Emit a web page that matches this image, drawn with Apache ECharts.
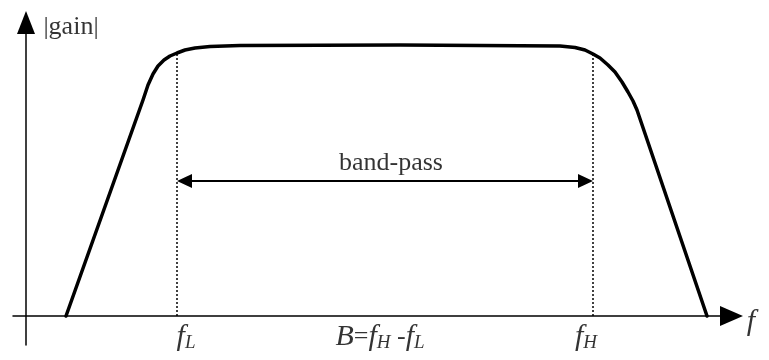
<!DOCTYPE html>
<html>
<head>
<meta charset="utf-8">
<script src="https://cdn.jsdelivr.net/npm/echarts@6/dist/echarts.min.js"></script>
<style>html,body{margin:0;padding:0;background:#fff}#c{width:769px;height:360px}</style>
</head>
<body>
<div id="c"></div>
<script>
// Data (frequency units, gain units)
const curveF = [40, 117, 122, 127, 132, 138, 144, 151, 159, 169, 184, 214, 374, 534, 549, 559, 567, 574, 582, 589, 596, 602, 607, 611, 681];
const curveG = [0, 216, 231, 242, 250, 256, 260, 263, 266, 268, 269.5, 270.5, 271, 270, 268.5, 266, 262, 258, 251, 244, 234, 224, 215, 206, 0];
const fL = 151;
const fH = 567;
const fLTop = 262;
const fHTop = 261;
const bandGain = 135;
const labelTexts = ['|gain|', 'band-pass', '{i|f}{s|L}', '{i|B}{n|=}{i|f}{s|H}{n| -}{i|f}{s|L}', '{i|f}{s|H}', '{i|f}'];
const labelAnchors = [[45, 289], [365, 153], [160, -21], [354, -21], [560, -21], [725, -6]];

const serif = 'Liberation Serif';
const arrowLen = 15;
const chart = echarts.init(document.getElementById('c'), null, {renderer: 'canvas'});

const curveData = curveF.map((f, i) => [f, curveG[i]]);
const labelData = labelAnchors.map((p, i) => ({value: [p[0], p[1]], name: labelTexts[i]}));

chart.setOption({
  animation: false,
  backgroundColor: '#fff',
  grid: {left: 13, right: 37.5, top: 22.5, bottom: 15},
  xAxis: {
    type: 'value', min: -13, max: 705.5,
    axisLine: {show: true, onZero: true, symbol: ['none', 'triangle'], symbolSize: [20, 23], lineStyle: {color: '#000', width: 1.5}},
    axisTick: {show: false}, axisLabel: {show: false}, splitLine: {show: false}
  },
  yAxis: {
    type: 'value', min: -29, max: 293.5,
    axisLine: {show: true, onZero: true, symbol: ['none', 'triangle'], symbolSize: [18, 23], lineStyle: {color: '#000', width: 1.5}},
    axisTick: {show: false}, axisLabel: {show: false}, splitLine: {show: false}
  },
  series: [
    {
      type: 'line', data: curveData, smooth: false, symbol: 'none',
      lineStyle: {color: '#000', width: 3.5, join: 'round', cap: 'round'}, silent: true
    },
    {
      type: 'line', data: [[fL, 0], [fL, fLTop]], symbol: 'none',
      lineStyle: {color: '#000', width: 1.5, type: [2, 2]}, silent: true
    },
    {
      type: 'line', data: [[fH, 0], [fH, fHTop]], symbol: 'none',
      lineStyle: {color: '#000', width: 1.5, type: [2, 2]}, silent: true
    },
    {
      type: 'line', data: [], symbol: 'none', silent: true,
      markLine: {
        silent: true, animation: false,
        symbol: ['triangle', 'triangle'], symbolSize: [14, arrowLen],
        label: {show: false},
        lineStyle: {color: '#000', width: 2, type: 'solid'},
        data: [[{coord: [fL + arrowLen / 2, bandGain]}, {coord: [fH - arrowLen / 2, bandGain]}]]
      }
    },
    {
      type: 'scatter', data: labelData, symbolSize: 1, clip: false, silent: true,
      itemStyle: {color: 'rgba(0,0,0,0)'},
      label: {
        show: true, position: 'inside', color: '#000',
        fontFamily: serif, fontSize: 26,
        formatter: p => p.name,
        rich: {
          i: {fontFamily: serif, fontStyle: 'italic', fontSize: 30, color: '#000'},
          n: {fontFamily: serif, fontSize: 26, color: '#000'},
          s: {fontFamily: serif, fontStyle: 'italic', fontSize: 19, color: '#000', verticalAlign: 'bottom', padding: [12, 0, 0, 0]}
        }
      }
    }
  ]
});
</script>
</body>
</html>
